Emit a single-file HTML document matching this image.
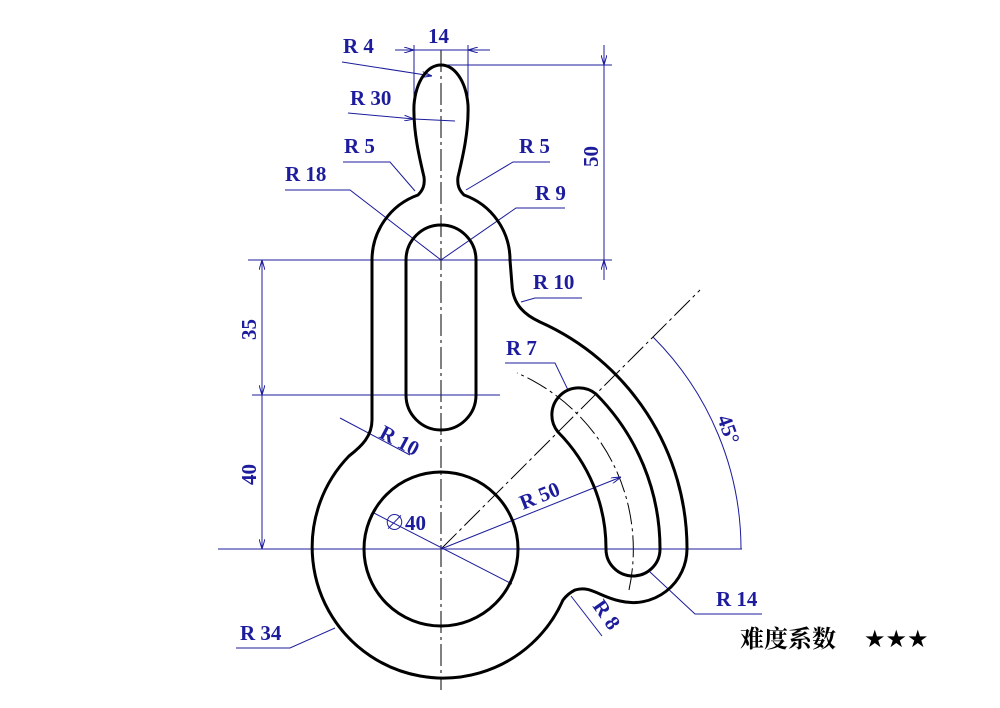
<!DOCTYPE html>
<html><head><meta charset="utf-8"><style>
html,body{margin:0;padding:0;background:#fff;width:1000px;height:708px;overflow:hidden}
svg{display:block}
.t{font-family:"Liberation Serif","Noto Serif CJK SC",serif;font-weight:bold;fill:#1c1c9c;font-size:21px}
</style></head><body>
<svg width="1000" height="708" viewBox="0 0 1000 708">
<defs><marker id="a" markerWidth="10" markerHeight="6" refX="10" refY="3" orient="auto" markerUnits="userSpaceOnUse"><path d="M0,0 L10,3 L0,6" fill="none" stroke="#1c1c9c" stroke-width="1"/></marker></defs>
<g stroke="#000" stroke-width="1" fill="none" stroke-dasharray="22,4,3,4">
<line x1="441" y1="50" x2="441" y2="690"/>
<line x1="441" y1="549" x2="700" y2="290"/>
<path d="M 629,590 A192 192 0 0 0 517,373"/>
</g>
<g stroke="#1c1c9c" stroke-width="1" fill="none">
<line x1="218" y1="549" x2="742" y2="549"/>
<line x1="248" y1="260" x2="612" y2="260"/>
<line x1="252" y1="395" x2="500" y2="395"/>
<line x1="441" y1="65" x2="612" y2="65"/>
<line x1="414" y1="45" x2="414" y2="130"/>
<line x1="468" y1="45" x2="468" y2="130"/>
<line x1="395" y1="50" x2="414" y2="50" marker-end="url(#a)"/>
<line x1="490" y1="50" x2="468" y2="50" marker-end="url(#a)"/>
<line x1="414" y1="50" x2="468" y2="50"/>
<line x1="604" y1="45" x2="604" y2="65" marker-end="url(#a)"/>
<line x1="604" y1="65" x2="604" y2="260"/>
<line x1="604" y1="280" x2="604" y2="260" marker-end="url(#a)"/>
<line x1="262" y1="280" x2="262" y2="260" marker-end="url(#a)"/>
<line x1="262" y1="375" x2="262" y2="395" marker-end="url(#a)"/>
<line x1="262" y1="260" x2="262" y2="549"/>
<line x1="262" y1="530" x2="262" y2="549" marker-end="url(#a)"/>
<path d="M 653,337 A300 300 0 0 1 741,549"/>
<line x1="342" y1="62" x2="432" y2="76" marker-end="url(#a)"/>
<line x1="348" y1="113" x2="414" y2="119" marker-end="url(#a)"/><line x1="414" y1="119" x2="455" y2="121"/>
<polyline points="343,162 390,162 415,191"/>
<polyline points="285,190 350,190 441,260"/>
<polyline points="550,162 513,162 466,190"/>
<polyline points="565,208 516,208 441,260"/>
<polyline points="582,298 535,298 521,302"/>
<polyline points="505,363 555,363 568,390"/>
<line x1="340" y1="418" x2="410" y2="455"/>
<line x1="441" y1="549" x2="621" y2="477" marker-end="url(#a)"/>
<line x1="372" y1="512" x2="512" y2="584"/>
<polyline points="236,648 290,648 335,628"/>
<line x1="602" y1="636" x2="571" y2="596"/>
<polyline points="762,614 695,614 650,572"/>
</g>
<g stroke="#000" stroke-width="3" fill="none">
<path d="M 372,420 L 372,260 A69 69 0 0 1 418,195 C 423,190 425,185 424,177 C 420,160 413,132 414,105 C 416,80 428,65 441,65 C 454,65 466,80 468,105 C 469,132 462,160 458,177 C 457,185 459,190 464,195 A69 69 0 0 1 510,260 L 512,285 C 513,305 525,315 540,322 A248 248 0 0 1 687,549 A54 54 0 0 1 620,601 C 600,597 590,585 575,590 C 569,593 566,596 563,600 A131 131 0 1 1 349,456 C 362,446 372,436 372,420 Z"/>
<path d="M406,260 A35 35 0 0 1 476,260 L476,395 A35 35 0 0 1 406,395 Z"/>
<circle cx="441" cy="549" r="77"/>
<path d="M 596,394 A219 219 0 0 1 660,549 A27 27 0 0 1 606,549 A165 165 0 0 0 558,432 A27 27 0 0 1 596,394 Z"/>
</g>
<text class="t" x="343" y="53">R 4</text>
<text class="t" x="428" y="43">14</text>
<text class="t" x="350" y="105">R 30</text>
<text class="t" x="344" y="153">R 5</text>
<text class="t" x="519" y="153">R 5</text>
<text class="t" x="285" y="181">R 18</text>
<text class="t" x="535" y="200">R 9</text>
<text class="t" x="533" y="289">R 10</text>
<text class="t" x="506" y="355">R 7</text>
<text class="t" x="716" y="606">R 14</text>
<text class="t" x="240" y="640">R 34</text>
<text class="t" transform="translate(598,167) rotate(-90)">50</text>
<text class="t" transform="translate(256,340) rotate(-90)">35</text>
<text class="t" transform="translate(256,485) rotate(-90)">40</text>
<text class="t" transform="translate(378,437) rotate(28)">R 10</text>
<text class="t" transform="translate(523,510) rotate(-22)">R 50</text>
<text class="t" transform="translate(592,606) rotate(55)">R 8</text>
<text class="t" transform="translate(717,418) rotate(70)">45°</text>
<text class="t" x="384" y="530">∅40</text>
<text x="740" y="647" style="font-family:'Liberation Serif','Noto Serif CJK SC',serif;font-size:24px;font-weight:bold;fill:#000">难度系数</text>
<text x="864" y="647" style="font-family:'DejaVu Sans',sans-serif;font-size:24px;fill:#000">★★★</text>
</svg>
</body></html>
